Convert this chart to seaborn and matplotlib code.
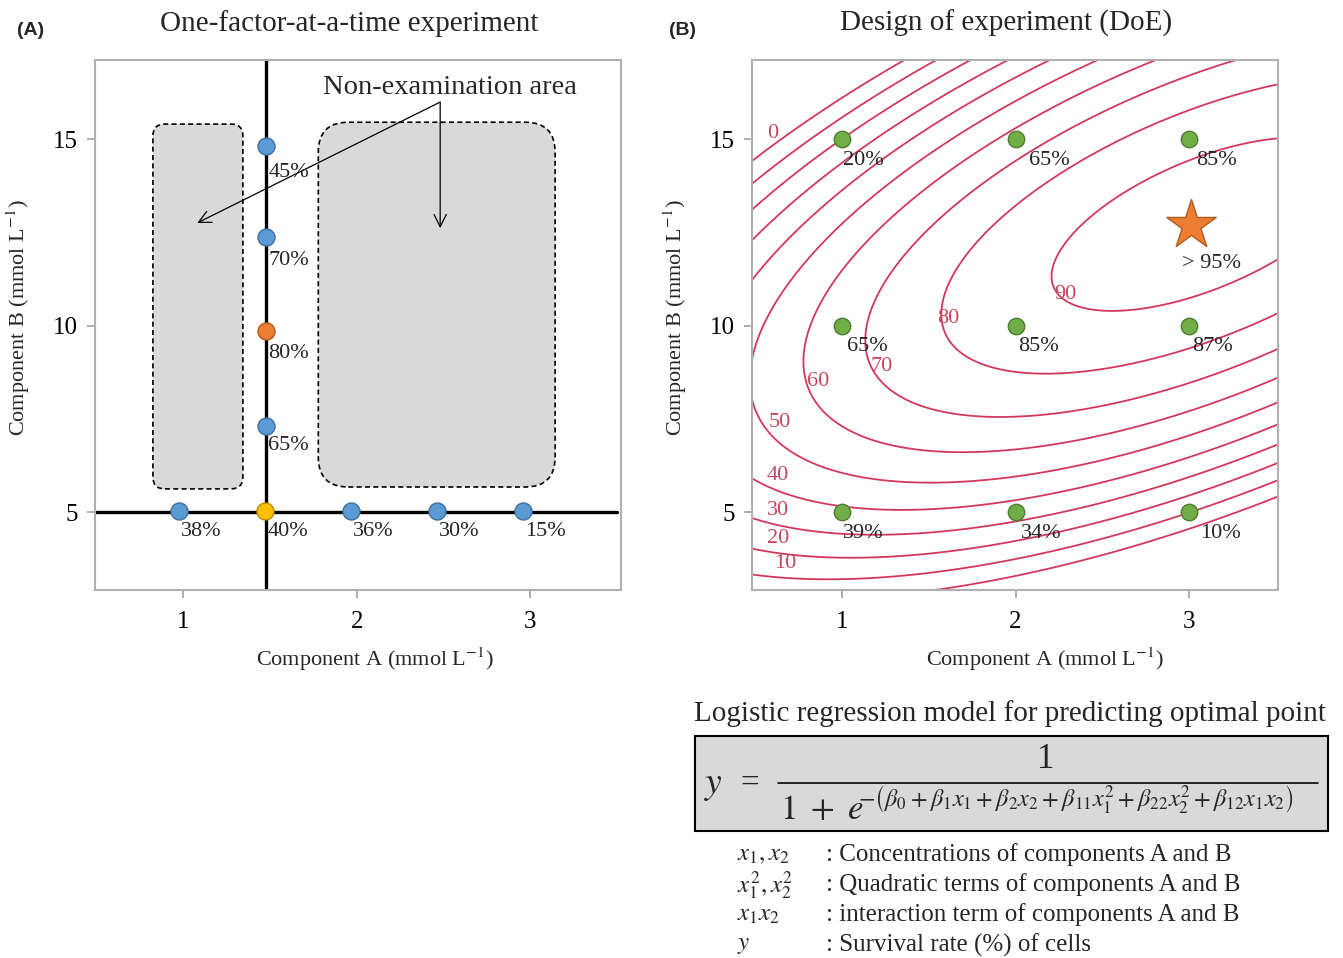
import matplotlib
matplotlib.use("Agg")
import matplotlib.pyplot as plt
from matplotlib.patches import FancyBboxPatch, Rectangle
import numpy as np
import pandas as pd
import seaborn as sns


# (A) one-factor-at-a-time runs: component A, component B, survival label, role
OFAT_A = [1.478, 1.478, 1.478, 1.478, 0.977, 1.472, 1.968, 2.464, 2.960]
OFAT_B = [14.81, 12.37, 9.85, 7.30, 5.03, 5.03, 5.03, 5.03, 5.03]
OFAT_LABELS = ["45%", "70%", "80%", "65%", "38%", "40%", "36%", "30%", "15%"]
OFAT_ROLE = ["run", "run", "best", "run", "run", "start", "run", "run", "run"]
FIXED_A = 1.478
FIXED_B = 5.0
# non-examination areas (A from, A to, B from, B to, corner radius px)
SKIPPED_AREAS = [(0.824, 1.343, 5.62, 15.40, 12), (1.778, 3.144, 5.67, 15.45, 30)]

# (B) 3x3 design of experiment
DOE_A = [1, 2, 3, 1, 2, 3, 1, 2, 3]
DOE_B = [15, 15, 15, 10, 10, 10, 5, 5, 5]
DOE_SURVIVAL = [20, 65, 85, 65, 85, 87, 39, 34, 10]
OPTIMUM = (3.01, 12.69)
OPTIMUM_LABEL = "> 95%"
CONTOUR_LEVELS = [0, 10, 20, 30, 40, 50, 60, 70, 80, 90]

# formula legend
LEGEND_SYMBOLS = [r"$x_1, x_2$", r"$x_1^2, x_2^2$", r"$x_1x_2$", r"$y$"]
LEGEND_TEXT = [
  ": Concentrations of components A and B",
  ": Quadratic terms of components A and B",
  ": interaction term of components A and B",
  ": Survival rate (%) of cells",
]

# layout only (px offsets / label spots), not data
OFAT_LABEL_DY = [26, 23, 22, 19, 21, 21, 21, 21, 21]
DOE_LABEL_DX = [1, 13, 7, 5, 3, 3, 1, 5, 11]
CONTOUR_LABEL_POS = [(0.60, 15.16), (0.67, 3.63), (0.63, 4.30), (0.63, 5.05), (0.63, 5.99),
                     (0.64, 7.41), (0.86, 8.49), (1.23, 8.91), (1.61, 10.20), (2.29, 10.84)]

RED = "#d2385a"
PX = 0.72  # points per pixel at dpi 100

sns.set_theme(style="white")
plt.rcParams["font.family"] = ["Liberation Serif", "DejaVu Serif"]
plt.rcParams["mathtext.fontset"] = "stix"


def style_axes(ax, title):
  ax.set_xlim(0.49, 3.524)
  ax.set_ylim(2.909, 17.118)
  ax.set_xticks([1, 2, 3])
  ax.set_yticks([5, 10, 15])
  for sp in ax.spines.values():
    sp.set_color("#b0b0b0")
    sp.set_linewidth(1.5)
  ax.tick_params(axis="both", which="major", direction="out", length=6, width=1.2,
                 color="#a0a0a0", labelsize=18, labelcolor="black", bottom=True, left=True)
  ax.tick_params(axis="x", pad=9)
  ax.tick_params(axis="y", pad=6)
  ax.set_title(title, fontsize=21, pad=21, x=0.483)


def plot_ofat(ax):
  style_axes(ax, "One-factor-at-a-time experiment")

  sx, sy = ax.transData.transform((1, 1)) - ax.transData.transform((0, 0))
  for a0, a1, b0, b1, r in SKIPPED_AREAS:
    ax.add_patch(FancyBboxPatch((a0, b0), a1 - a0, b1 - b0,
                                boxstyle=f"round,pad=0,rounding_size={r / sx}",
                                mutation_aspect=sx / sy, fc="#d9d9d9", ec="black",
                                lw=1.2, ls=(0, (3, 2)), zorder=1))

  ax.axvline(FIXED_A, color="black", lw=2.4, zorder=2)
  ax.axhline(FIXED_B, xmax=0.992, color="black", lw=2.4, zorder=2)

  ax.annotate("", xy=(1.08, 12.75), xytext=(2.481, 15.99),
              arrowprops=dict(arrowstyle="->", color="black", lw=0.9,
                              mutation_scale=22, shrinkA=0, shrinkB=0), zorder=3)
  ax.annotate("", xy=(2.481, 12.61), xytext=(2.481, 15.99),
              arrowprops=dict(arrowstyle="->", color="black", lw=0.9,
                              mutation_scale=22, shrinkA=0, shrinkB=0), zorder=3)
  ax.text(2.54, 16.37, "Non-examination area", fontsize=20.5, ha="center", va="center",
          zorder=4)

  df = pd.DataFrame({"A": OFAT_A, "B": OFAT_B, "label": OFAT_LABELS, "role": OFAT_ROLE})
  colors = {"run": ("#5b9bd5", "#41719c"), "best": ("#ed7d31", "#ae5a21"),
            "start": ("#ffc000", "#bc8c00")}
  for role, (fc, ec) in colors.items():
    sub = df[df["role"] == role]
    sns.scatterplot(data=sub, x="A", y="B", color=fc, edgecolor=ec, linewidth=1.0,
                    s=150, legend=False, ax=ax, zorder=5)
  for (_, row), dy in zip(df.iterrows(), OFAT_LABEL_DY):
    ax.annotate(row["label"], (row["A"], row["B"]), xytext=(2 * PX, -dy * PX),
                textcoords="offset points", ha="left", va="center", fontsize=16, zorder=6)
  ax.set_xlabel("Component A (mmol L$^{-1}$)", fontsize=16)
  ax.set_ylabel("Component B (mmol L$^{-1}$)", fontsize=16)


def plot_doe(ax):
  style_axes(ax, "Design of experiment (DoE)")
  ax.set_xlim(0.481, 3.513)

  # quadratic response surface fitted to the nine design runs
  a = np.array(DOE_A, float)
  b = np.array(DOE_B, float)
  y = np.array(DOE_SURVIVAL, float)
  design = np.column_stack([np.ones_like(a), a, b, a ** 2, b ** 2, a * b])
  coef, *_ = np.linalg.lstsq(design, y, rcond=None)

  ga, gb = np.meshgrid(np.linspace(0.481, 3.513, 300), np.linspace(2.909, 17.118, 300))
  surf = (coef[0] + coef[1] * ga + coef[2] * gb + coef[3] * ga ** 2
          + coef[4] * gb ** 2 + coef[5] * ga * gb)
  ax.contour(ga, gb, surf, levels=CONTOUR_LEVELS, colors=RED, linewidths=1.3, zorder=2)
  for lvl, (px, py) in zip(CONTOUR_LEVELS, CONTOUR_LABEL_POS):
    ax.text(px, py, str(lvl), color="#c9465f", fontsize=16, ha="center", va="center",
            zorder=3)

  df = pd.DataFrame({"A": DOE_A, "B": DOE_B, "survival": DOE_SURVIVAL})
  sns.scatterplot(data=df, x="A", y="B", color="#70ad47", edgecolor="#4e7d30",
                  linewidth=1.0, s=140, legend=False, ax=ax, zorder=5)
  for (_, row), dx in zip(df.iterrows(), DOE_LABEL_DX):
    ax.annotate(f"{row['survival']}%", (row["A"], row["B"]), xytext=(dx * PX, -21 * PX),
                textcoords="offset points", ha="left", va="center", fontsize=16, zorder=6)

  ax.scatter([OPTIMUM[0]], [OPTIMUM[1]], marker="*", s=1400, color="#ed7d31",
             edgecolor="#ae5a21", linewidth=1.0, zorder=6)
  ax.annotate(OPTIMUM_LABEL, OPTIMUM, xytext=(-9 * PX, -38 * PX),
              textcoords="offset points", ha="left", va="center", fontsize=16, zorder=6)
  ax.set_xlabel("Component A (mmol L$^{-1}$)", fontsize=16)
  ax.set_ylabel("Component B (mmol L$^{-1}$)", fontsize=16)


def draw_model(over):
  over.text(1010, 714, "Logistic regression model for predicting optimal point",
            fontsize=21, ha="center", va="center")
  over.add_patch(Rectangle((695, 736), 633, 95, fc="#d9d9d9", ec="black", lw=1.5))
  over.text(713, 786, "$y$", fontsize=27, ha="center", va="center")
  over.text(750, 783, "=", fontsize=24, ha="center", va="center")
  over.text(1046, 760, "1", fontsize=25, ha="center", va="center")
  over.plot([778, 1318], [783, 783], color="black", lw=1.2)
  over.text(780, 811, r"$1\ +\ e$", fontsize=25, ha="left", va="center")
  over.text(858, 799,
            r"$-\left(\beta_0+\beta_1x_1+\beta_2x_2+\beta_{11}x_1^2+\beta_{22}x_2^2"
            r"+\beta_{12}x_1x_2\right)$",
            fontsize=17.5, ha="left", va="center")
  for i, (sym, txt) in enumerate(zip(LEGEND_SYMBOLS, LEGEND_TEXT)):
    over.text(737, 855 + 30 * i, sym, fontsize=18, ha="left", va="center")
    over.text(826, 855 + 30 * i, txt, fontsize=18, ha="left", va="center")


def main() -> None:
  fig = plt.figure(figsize=(13.43, 9.58), dpi=100)
  over = fig.add_axes([0, 0, 1, 1], zorder=0)
  over.set_xlim(0, 1343)
  over.set_ylim(958, 0)
  over.set_axis_off()

  ax_a = fig.add_axes([95 / 1343, 1 - 590 / 958, 526 / 1343, 530 / 958], zorder=1)
  ax_b = fig.add_axes([752 / 1343, 1 - 590 / 958, 526 / 1343, 530 / 958], zorder=1)
  plot_ofat(ax_a)
  plot_doe(ax_b)
  for ax, lx in ((ax_a, 0.532), (ax_b, 0.557)):
    ax.xaxis.set_label_coords(lx, -0.105)
    ax.yaxis.set_label_coords(-0.12, 0.513)

  over.text(31, 30, "(A)", family="Liberation Sans", fontweight="bold", fontsize=14,
            ha="center", va="center")
  over.text(682, 30, "(B)", family="Liberation Sans", fontweight="bold", fontsize=14,
            ha="center", va="center")
  draw_model(over)

  fig.savefig("out.png", dpi=100)
  plt.close(fig)


if __name__ == "__main__":
  main()
